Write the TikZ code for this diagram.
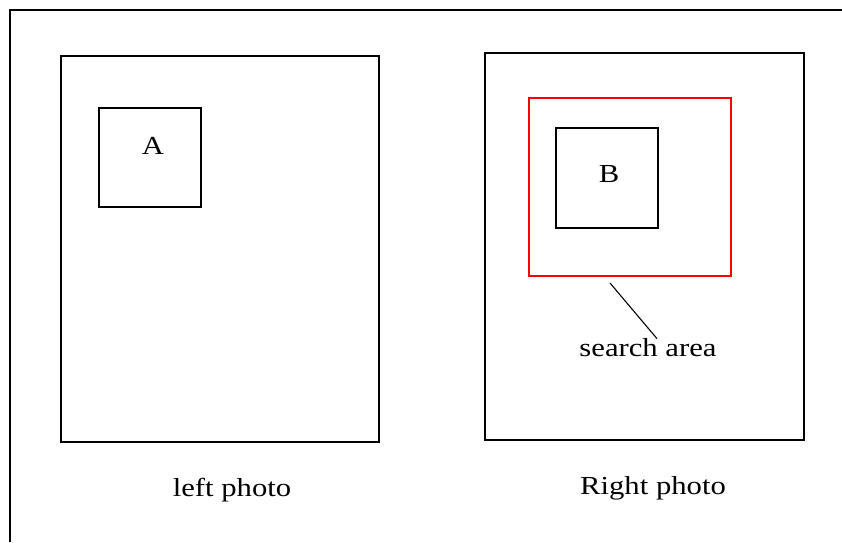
\documentclass[tikz,border=0pt]{standalone}
\usepackage{fontspec}
\setmainfont{Liberation Serif}
\begin{document}
\begin{tikzpicture}[x=1pt,y=-1pt,
  box/.style={draw=black,line width=1.6pt},
  lbl/.style={font=\fontsize{26}{30}\selectfont,inner sep=0pt,xscale=1.18}]
\useasboundingbox (0,0) rectangle (842,542);
\draw[line width=1.6pt] (10,542) -- (10,10) -- (842,10);
\draw[box] (61,56) rectangle (379,442);
\draw[box] (99,108) rectangle (201,207);
\node[lbl] (A) at (153,146) {A};
\draw[box] (485,53) rectangle (804,440);
\draw[draw=red,line width=1.6pt] (529,98) rectangle (731,276);
\draw[box] (556,128) rectangle (658,228);
\node[lbl] (B) at (609,174) {B};
\node[lbl] (sa) at (648,348) {search area};
\coordinate (p) at (610,283);
\draw[line width=1.1pt] (p) -- (sa.north -| 657,0);
\node[lbl] (lp) at (232,490) {left photo};
\node[lbl] (rp) at (653,488) {Right photo};
\end{tikzpicture}
\end{document}
